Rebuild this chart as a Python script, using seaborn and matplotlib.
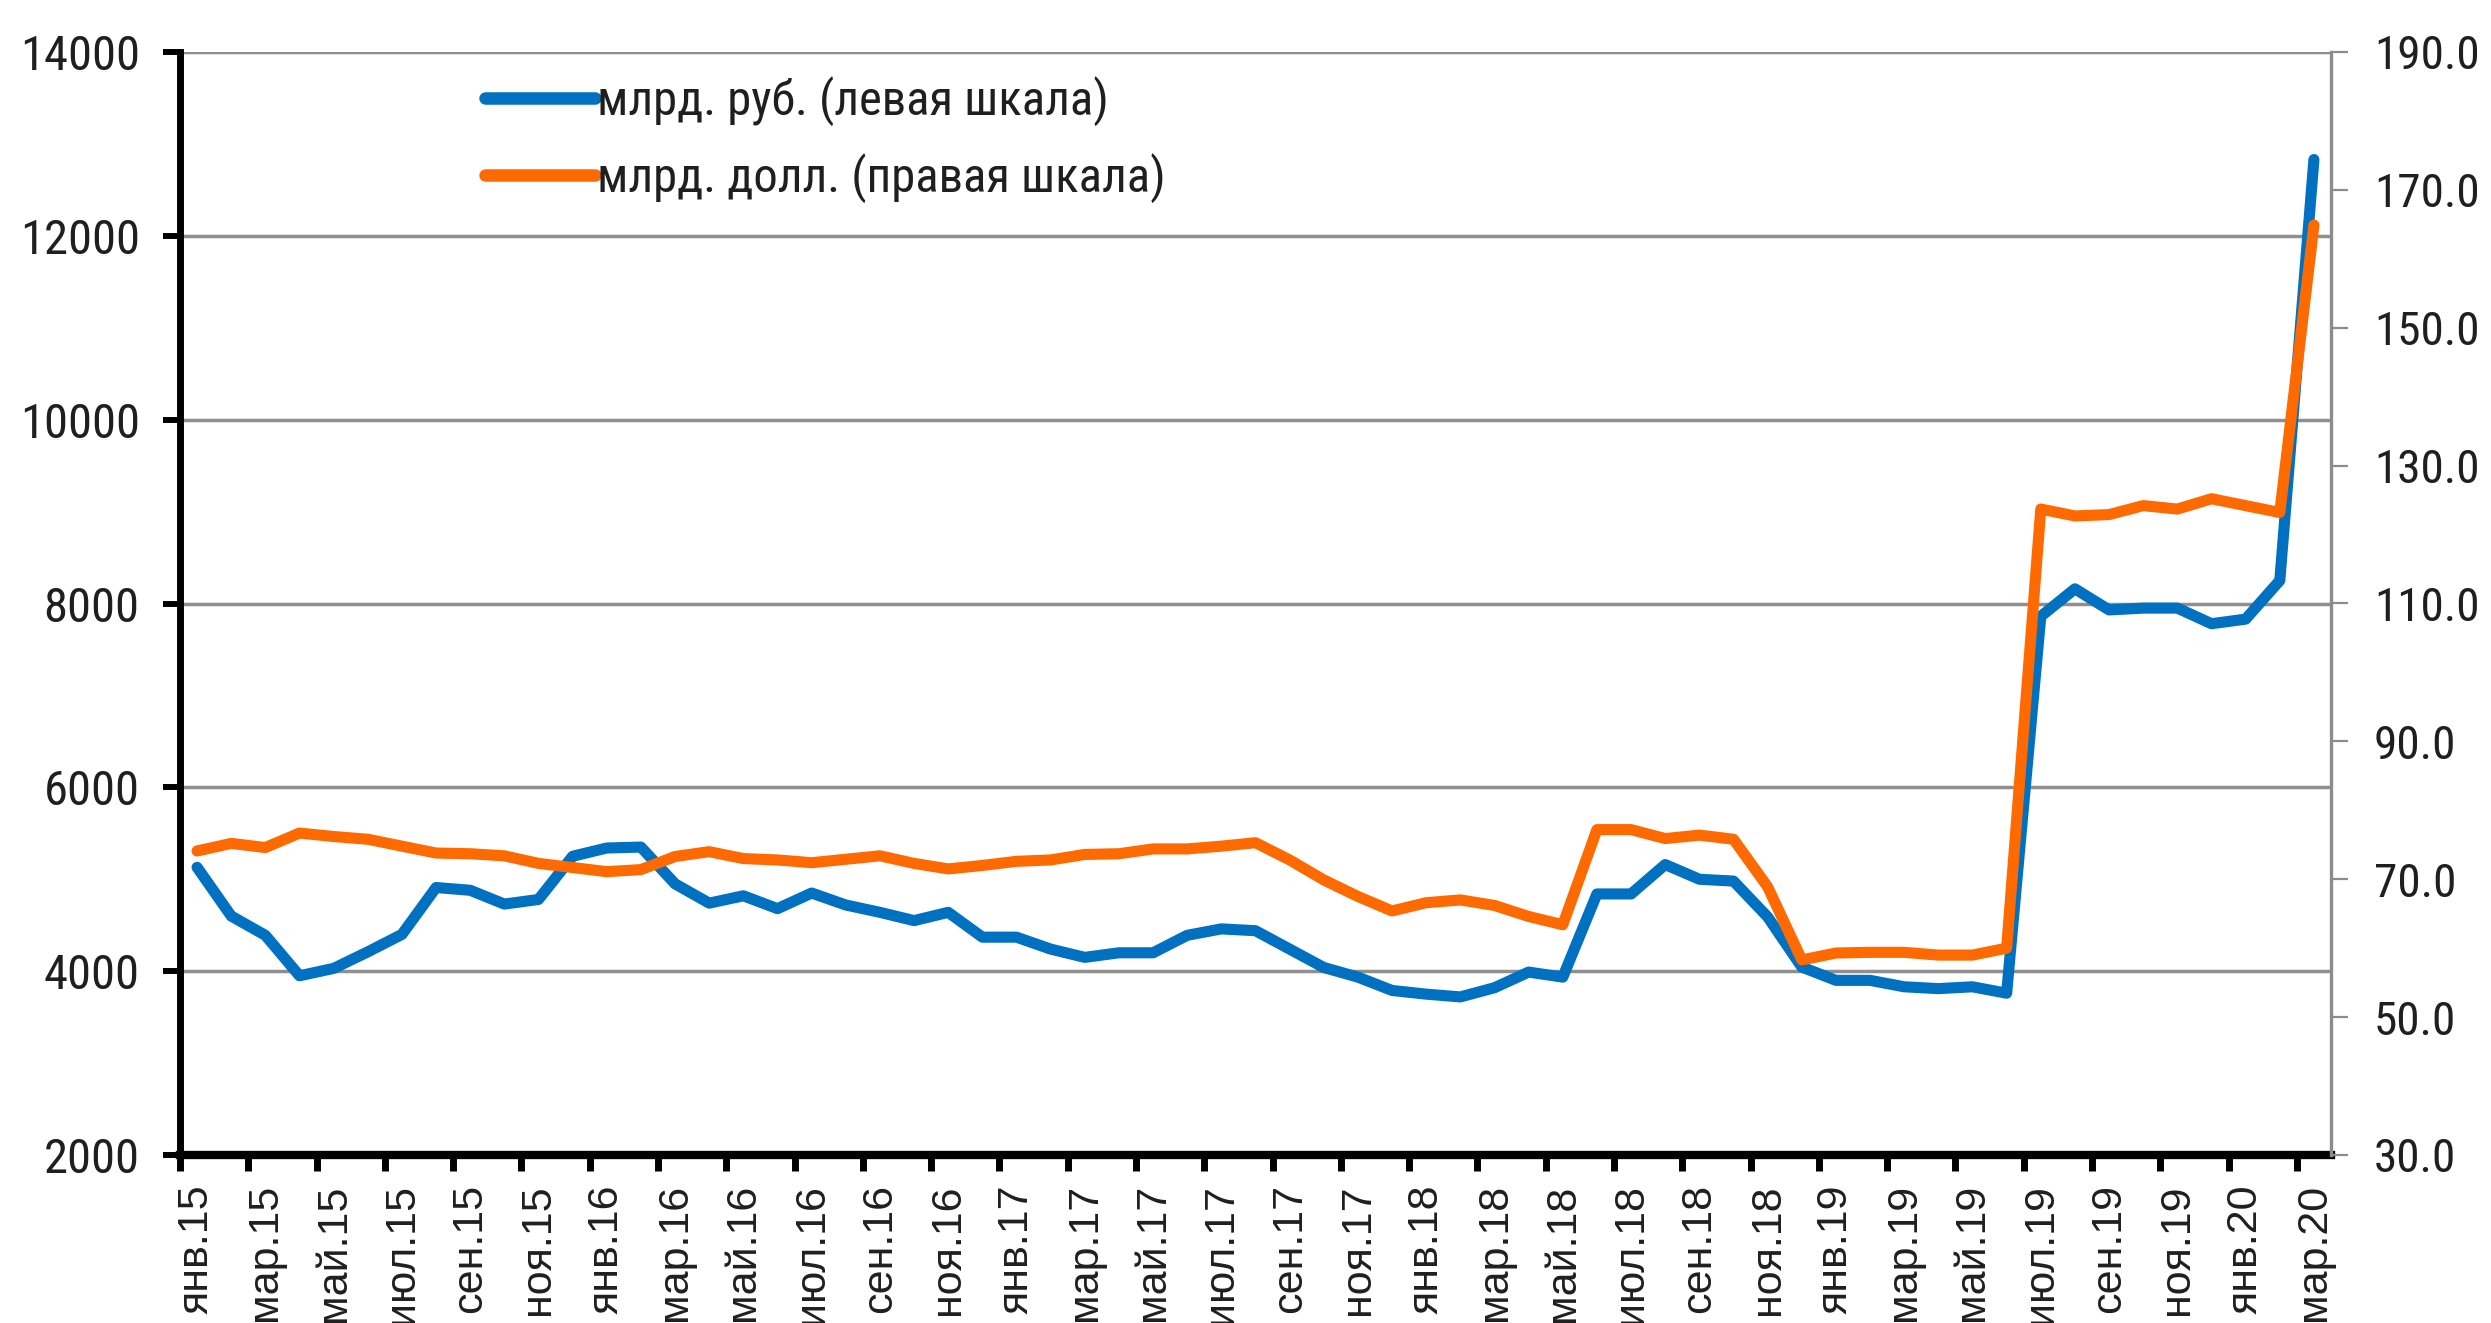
import matplotlib
matplotlib.use('Agg')
import matplotlib.pyplot as plt
import seaborn as sns
import pandas as pd
import numpy as np
from matplotlib import font_manager
from matplotlib.font_manager import FontProperties
from matplotlib.lines import Line2D

# monthly values, Jan 2015 .. Mar 2020
RUB = [5130, 4600, 4390, 3950, 4030, 4210, 4400, 4910, 4880, 4730,
       4780, 5250, 5340, 5350, 4950, 4740, 4820, 4680, 4850, 4720,
       4640, 4550, 4640, 4370, 4370, 4240, 4150, 4200, 4200, 4390,
       4460, 4440, 4240, 4040, 3935, 3790, 3750, 3720, 3820, 3990,
       3935, 4840, 4840, 5160, 5000, 4980, 4590, 4045, 3900, 3900,
       3830, 3810, 3830, 3760, 7860, 8160, 7930, 7950, 7950, 7780,
       7830, 8250, 12830]
USD = [74.1, 75.2, 74.6, 76.7, 76.2, 75.8, 74.8, 73.8, 73.7, 73.4,
       72.3, 71.7, 71.1, 71.4, 73.3, 74.0, 73.0, 72.8, 72.4, 72.9,
       73.4, 72.3, 71.5, 72.0, 72.6, 72.8, 73.6, 73.7, 74.4, 74.4,
       74.8, 75.3, 72.8, 69.9, 67.5, 65.4, 66.6, 67.0, 66.2, 64.6,
       63.4, 77.2, 77.2, 75.9, 76.4, 75.8, 68.9, 58.3, 59.3, 59.4,
       59.4, 59.0, 59.0, 60.0, 123.7, 122.7, 122.9, 124.2, 123.7, 125.2,
       124.2, 123.2, 164.9]
MONTHS = ['янв.', 'мар.', 'май.', 'июл.', 'сен.', 'ноя.']
YEARS = ['15', '16', '17', '18', '19', '20']
TICK_LABELS = [m + y for y in YEARS for m in MONTHS][:32]
SERIES = ['млрд. руб. (левая шкала)', 'млрд. долл. (правая шкала)']

BLUE = '#0070c0'
ORANGE = '#ff6a00'
TEXT = '#1f1f1f'
GRID = '#8f8f8f'

W, H, DPI = 2491, 1323, 100


def narrow_font():
    # an Arial Narrow look-alike if one is installed
    cond = {'condensed', 'semi-condensed', 'extra-condensed', 'ultra-condensed'}
    regular = (400, 'normal', 'regular', 'book')
    fl = font_manager.fontManager.ttflist
    for f in fl:
        if f.name == 'Liberation Sans Narrow' and f.style == 'normal' and f.weight in regular:
            return f.fname, True
    for fam in ('Roboto Condensed', 'Open Sans Condensed', 'Noto Sans', 'Open Sans', 'Roboto'):
        for f in fl:
            st = f.stretch
            ok = st < 500 if isinstance(st, (int, float)) else st in cond
            if f.name == fam and ok and f.style == 'normal' and f.weight in regular:
                return f.fname, True
    return font_manager.findfont('Liberation Sans'), False


NARROW_FILE, IS_NARROW = narrow_font()

sns.set_theme(style='white')
plt.rcParams['font.family'] = ['Liberation Sans', 'DejaVu Sans']
plt.rcParams['text.color'] = TEXT

FS_NUM = 35 if IS_NARROW else 30
narrow = FontProperties(fname=NARROW_FILE, size=FS_NUM)
narrow_r = FontProperties(fname=NARROW_FILE, size=FS_NUM - 1)

df = pd.DataFrame({'x': np.arange(len(RUB)), 'rub': RUB, 'usd': USD})

fig = plt.figure(figsize=(W / DPI, H / DPI), dpi=DPI)
ax = fig.add_axes([180 / W, 1 - 1155 / H, (2331 - 180) / W, (1155 - 52) / H])
ax2 = ax.twinx()

sns.lineplot(data=df, x='x', y='rub', ax=ax, color=BLUE, lw=8, legend=False,
             solid_joinstyle='round')
sns.lineplot(data=df, x='x', y='usd', ax=ax2, color=ORANGE, lw=8, legend=False,
             solid_joinstyle='round')

ax.set_xlim(-0.5, len(RUB) - 0.5)
ax.set_ylim(2000, 14000)
ax2.set_ylim(30, 190)
for a in (ax, ax2):
    a.set_xlabel('')
    a.set_ylabel('')

# left axis
ax.set_yticks(range(2000, 14001, 2000))
ax.set_yticklabels([str(v) for v in range(2000, 14001, 2000)],
                   fontproperties=narrow, color=TEXT)
ax.tick_params(axis='y', left=True, length=12, width=4.3, color='black', pad=17)
ax.yaxis.grid(True, color=GRID, lw=2.5)
ax.xaxis.grid(False)

# x axis: ticks between categories, labels every second month
ax.set_xticks(np.arange(-0.5, len(RUB) - 1, 2))
ax.set_xticklabels([])
ax.set_xticks(np.arange(0, len(RUB), 2), minor=True)
ax.set_xticklabels(TICK_LABELS, minor=True, rotation=90, fontsize=31, color=TEXT)
ax.tick_params(axis='x', which='major', bottom=True, length=11.5, width=5, color='black')
ax.tick_params(axis='x', which='minor', bottom=True, length=0, pad=21)

# right axis
ax2.set_yticks(np.arange(30, 191, 20))
ax2.set_yticklabels([f'{v:.1f}' for v in np.arange(30, 191, 20)],
                    fontproperties=narrow_r, color=TEXT)
ax2.tick_params(axis='y', right=True, length=12, width=1.6, color='#8c8c8c', pad=19)
ax2.grid(False)

for s in ('top', 'right'):
    ax.spines[s].set_visible(False)
ax.spines['left'].set_color('black')
ax.spines['left'].set_linewidth(5)
ax.spines['bottom'].set_color('black')
ax.spines['bottom'].set_linewidth(6)
for s in ('top', 'left', 'bottom'):
    ax2.spines[s].set_visible(False)
ax2.spines['right'].set_color('#8c8c8c')
ax2.spines['right'].set_linewidth(2.4)

handles = [Line2D([], [], color=BLUE, lw=9), Line2D([], [], color=ORANGE, lw=9)]
ax2.legend(handles, SERIES, loc='upper left', bbox_to_anchor=(0.142, 0.978),
           frameon=False, prop=narrow,
           handlelength=2.25, handletextpad=0.05, labelspacing=0.55,
           borderpad=0, borderaxespad=0, labelcolor=TEXT)

fig.savefig('out.png', dpi=DPI, facecolor='white')
